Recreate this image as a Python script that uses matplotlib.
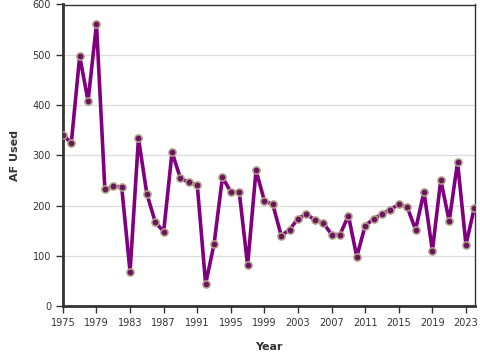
import matplotlib
matplotlib.use("Agg")
import matplotlib.pyplot as plt

years = list(range(1975, 2025))
af_used = [341, 324, 497, 408, 561, 232, 238, 237, 68, 334,
           223, 167, 148, 306, 254, 246, 241, 44, 123, 256,
           227, 227, 81, 270, 209, 202, 140, 152, 174, 183,
           171, 166, 142, 142, 180, 98, 160, 173, 183, 192,
           202, 197, 152, 227, 110, 251, 169, 286, 122, 196]
x_ticks = list(range(1975, 2024, 4))
y_ticks = [0, 100, 200, 300, 400, 500, 600]

fig = plt.figure(figsize=(4.8, 3.6), dpi=100)
ax = fig.add_axes([0.131, 0.15, 0.859, 0.8375])

ax.plot(years, af_used, color="#800080", lw=2.6, zorder=3,
        marker="o", markersize=5.2, markerfacecolor="#6b165f",
        markeredgecolor="#b3a488", markeredgewidth=1.1)

ax.set_xlim(1975, 2024.1)
ax.set_ylim(0, 600)
ax.set_xticks(x_ticks)
ax.set_yticks(y_ticks)
ax.grid(axis="y", color="#dddddd", lw=0.9)
ax.set_axisbelow(True)

for s in ["left", "bottom"]:
    ax.spines[s].set_linewidth(2)
    ax.spines[s].set_color("#333333")
for s in ["top", "right"]:
    ax.spines[s].set_linewidth(1)
    ax.spines[s].set_color("#333333")

ax.tick_params(axis="both", labelsize=7, colors="#333333", length=5, width=1)
ax.set_xlabel("Year", fontsize=8, fontweight="bold", color="#333333")
ax.set_ylabel("AF Used", fontsize=8, fontweight="bold", color="#333333")
ax.xaxis.set_label_coords(0.5, -0.12)
ax.yaxis.set_label_coords(-0.104, 0.5)
for lab in ax.get_xticklabels():
    lab.set_clip_on(False)

fig.savefig("out.png", dpi=100)
